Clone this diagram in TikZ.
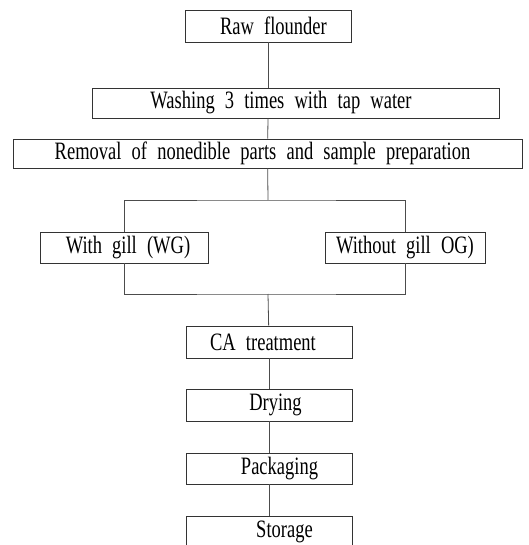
\documentclass[tikz,border=0pt]{standalone}
\usepackage{fontspec}
\setmainfont{Liberation Serif}
\usepackage{graphicx}
\usepackage{tikz}

% narrow, tall lettering with wide word gaps
\newcommand{\stxt}[2][0pt]{\hspace*{#1}\hspace*{#1}\scalebox{0.74}[1]{\fontsize{25}{28}\selectfont\spaceskip=0.55em plus 0.1em\relax #2}}

\tikzset{
  stepbox/.style={draw=black!80, line width=0.8pt, inner sep=0pt, minimum height=31pt},
  link/.style={draw=black!70, line width=0.8pt}
}

\begin{document}
\begin{tikzpicture}[x=1pt,y=1pt]
\useasboundingbox (0,0) rectangle (528,-545);
\begin{scope}
\clip (0,0) rectangle (528,-545);
\node[stepbox, minimum width=166pt, minimum height=32pt] (raw) at (268,-26) {\stxt[5.5pt]{Raw flounder}};
\node[stepbox, minimum width=407pt, minimum height=30pt] (wash) at (295.5,-103) {\stxt[-14.5pt]{Washing 3 times with tap water}};
\node[stepbox, minimum width=509pt, minimum height=29pt] (rem) at (267.5,-153.5) {\stxt[-5pt]{Removal of nonedible parts and sample preparation}};
\node[stepbox, minimum width=168pt] (wg) at (124,-247.5) {\stxt[4pt]{With gill (WG)}};
\node[stepbox, minimum width=160pt] (og) at (405,-247.5) {\stxt{Without gill OG)}};
\node[stepbox, minimum width=166pt, minimum height=32pt] (ca) at (269,-342) {\stxt[-6pt]{CA treatment}};
\node[stepbox, minimum width=166pt, minimum height=32pt] (dry) at (269,-405) {\stxt[6.5pt]{Drying}};
\node[stepbox, minimum width=166pt] (pack) at (269,-468.5) {\stxt[10.5pt]{Packaging}};
\node[stepbox, minimum width=166pt, minimum height=32pt] (store) at (269,-532) {\stxt[15.5pt]{Storage}};
\coordinate (split) at (268,-200);
\coordinate (merge) at (268,-294);
\draw[link] (raw) -- (raw |- wash.north);
\draw[link] (raw |- wash.south) -- (rem);
\draw[link] (rem) -- (split);
\draw[link] (wg.north) |- (split) -| (og.north);
\draw[link] (wg.south) |- (merge) -| (og.south);
\draw[link] (merge) -- (ca);
\draw[link] (ca) -- (dry);
\draw[link] (dry) -- (pack);
\draw[link] (pack) -- (store);
\end{scope}
\end{tikzpicture}
\end{document}
